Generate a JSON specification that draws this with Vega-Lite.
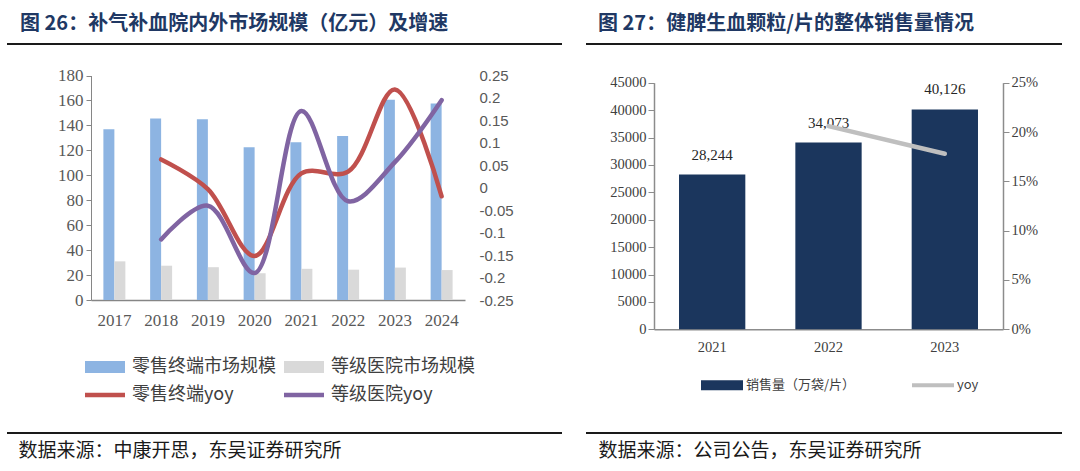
{
  "$schema": "https://vega.github.io/schema/vega-lite/v6.json",
  "background": "white",
  "padding": {"left": 6, "top": 13, "right": 0, "bottom": 0},
  "spacing": 22,
  "config": {"axis": {"grid": false}, "legend": {"padding": 0, "offset": 0}},
  "resolve": {"scale": {"color": "independent"}, "legend": {"color": "independent"}},
  "hconcat": [
    {
      "width": 555,
      "height": 389,
      "view": {"stroke": "#1a1a1a", "strokeWidth": 2, "strokeDash": [555, 389]},
      "title": {
        "text": "图 26：补气补血院内外市场规模（亿元）及增速",
        "anchor": "start", "frame": "group", "dx": 13, "offset": 10,
        "font": "Noto Sans CJK SC", "fontSize": 20, "fontWeight": "bold", "color": "#203864"
      },
      "layer": [
        {
          "data": {"values": [
            {"year": "2017", "series": "零售终端市场规模", "value": 137},
            {"year": "2017", "series": "等级医院市场规模", "value": 31},
            {"year": "2018", "series": "零售终端市场规模", "value": 145.5},
            {"year": "2018", "series": "等级医院市场规模", "value": 27.5},
            {"year": "2019", "series": "零售终端市场规模", "value": 145},
            {"year": "2019", "series": "等级医院市场规模", "value": 26.3},
            {"year": "2020", "series": "零售终端市场规模", "value": 122.5},
            {"year": "2020", "series": "等级医院市场规模", "value": 21.5},
            {"year": "2021", "series": "零售终端市场规模", "value": 126.5},
            {"year": "2021", "series": "等级医院市场规模", "value": 25},
            {"year": "2022", "series": "零售终端市场规模", "value": 131.5},
            {"year": "2022", "series": "等级医院市场规模", "value": 24.3},
            {"year": "2023", "series": "零售终端市场规模", "value": 160.5},
            {"year": "2023", "series": "等级医院市场规模", "value": 26},
            {"year": "2024", "series": "零售终端市场规模", "value": 157.5},
            {"year": "2024", "series": "等级医院市场规模", "value": 24}
          ]},
          "mark": {"type": "bar"},
          "encoding": {
            "x": {
              "field": "year", "type": "nominal",
              "scale": {"range": [84, 458], "paddingInner": 0.53, "paddingOuter": 0.265},
              "axis": {
                "orient": "bottom", "offset": -133, "labelAngle": 0,
                "domainColor": "#868686", "domainWidth": 1.5, "ticks": false,
                "labelFont": "Liberation Serif", "labelFontSize": 17, "labelColor": "#595959", "labelPadding": 12,
                "title": "数据来源：中康开思，东吴证券研究所",
                "titleX": 11, "titleY": 150, "titleAlign": "left", "titleAnchor": "start", "titleBaseline": "middle",
                "titleFont": "Noto Sans CJK SC", "titleFontSize": 19, "titleFontWeight": "normal", "titleColor": "#1a1a1a"
              }
            },
            "xOffset": {"field": "series", "type": "nominal", "sort": ["零售终端市场规模", "等级医院市场规模"]},
            "y": {
              "field": "value", "type": "quantitative",
              "scale": {"domain": [0, 180], "range": [256, 31.5], "nice": false},
              "axis": {
                "orient": "left", "offset": -84, "title": null,
                "values": [0, 20, 40, 60, 80, 100, 120, 140, 160, 180],
                "domainColor": "#868686", "tickColor": "#868686", "tickSize": 5,
                "labelFont": "Liberation Serif", "labelFontSize": 17, "labelColor": "#595959", "labelPadding": 3
              }
            },
            "color": {
              "field": "series", "type": "nominal",
              "scale": {
                "domain": ["零售终端市场规模", "零售终端yoy", "等级医院市场规模", "等级医院yoy"],
                "range": ["#8DB4E2", "#C0504D", "#D9D9D9", "#8064A2"]
              },
              "legend": {
                "title": null, "orient": "none", "legendX": 78, "legendY": 313,
                "columns": 2, "columnPadding": 8, "rowPadding": 9,
                "symbolType": "M-1,-0.6H3V0.6H-1Z", "symbolSize": 400, "symbolStrokeWidth": 0,
                "labelOffset": 27, "labelFont": "Noto Sans CJK SC", "labelFontSize": 18, "labelColor": "#404040",
                "encode": {
                  "symbols": {"update": {
                    "shape": {"signal": "test(/yoy/, datum.value) ? 'M-1,-0.22H3V0.22H-1Z' : 'M-1,-0.6H3V0.6H-1Z'"},
                    "fill": {"scale": "color", "field": "value"},
                    "stroke": {"value": "transparent"},
                    "opacity": {"value": 1}
                  }}
                }
              }
            }
          }
        },
        {
          "data": {"values": [
            {"year": "2018", "series": "零售终端yoy", "yoy": 0.063},
            {"year": "2019", "series": "零售终端yoy", "yoy": -0.003},
            {"year": "2020", "series": "零售终端yoy", "yoy": -0.152},
            {"year": "2021", "series": "零售终端yoy", "yoy": 0.032},
            {"year": "2022", "series": "零售终端yoy", "yoy": 0.036},
            {"year": "2023", "series": "零售终端yoy", "yoy": 0.219},
            {"year": "2024", "series": "零售终端yoy", "yoy": -0.019},
            {"year": "2018", "series": "等级医院yoy", "yoy": -0.115},
            {"year": "2019", "series": "等级医院yoy", "yoy": -0.04},
            {"year": "2020", "series": "等级医院yoy", "yoy": -0.19},
            {"year": "2021", "series": "等级医院yoy", "yoy": 0.171},
            {"year": "2022", "series": "等级医院yoy", "yoy": -0.03},
            {"year": "2023", "series": "等级医院yoy", "yoy": 0.057},
            {"year": "2024", "series": "等级医院yoy", "yoy": 0.195}
          ]},
          "mark": {"type": "line", "interpolate": "catmull-rom", "strokeWidth": 4.5, "strokeCap": "round"},
          "encoding": {
            "x": {"field": "year", "type": "nominal"},
            "y": {
              "field": "yoy", "type": "quantitative",
              "scale": {"domain": [-0.25, 0.25], "range": [256, 31.5], "nice": false, "zero": false},
              "axis": {
                "orient": "right", "offset": -97, "title": null,
                "values": [-0.25, -0.2, -0.15, -0.1, -0.05, 0, 0.05, 0.1, 0.15, 0.2, 0.25],
                "domain": false, "ticks": false, "labelPadding": 14,
                "labelFont": "Liberation Sans", "labelFontSize": 15, "labelColor": "#595959",
                "labelExpr": "replace(format(datum.value, '.2~f'), '−', '-')"
              }
            },
            "color": {"field": "series", "type": "nominal"}
          }
        }
      ],
      "resolve": {"scale": {"y": "independent"}}
    },
    {
      "width": 476,
      "height": 389,
      "view": {"stroke": "#1a1a1a", "strokeWidth": 2, "strokeDash": [476, 389]},
      "title": {
        "text": "图 27：健脾生血颗粒/片的整体销售量情况",
        "anchor": "start", "frame": "group", "dx": 12, "offset": 10,
        "font": "Noto Sans CJK SC", "fontSize": 20, "fontWeight": "bold", "color": "#203864"
      },
      "layer": [
        {
          "data": {"values": [
            {"year": "2021", "series": "销售量（万袋/片）", "value": 28244},
            {"year": "2022", "series": "销售量（万袋/片）", "value": 34073},
            {"year": "2023", "series": "销售量（万袋/片）", "value": 40126}
          ]},
          "layer": [
            {
              "mark": {"type": "bar"},
              "encoding": {
                "x": {
                  "field": "year", "type": "nominal",
                  "scale": {"range": [68, 417], "paddingInner": 0.43, "paddingOuter": 0.215},
                  "axis": {
                    "orient": "bottom", "offset": -103.7, "labelAngle": 0,
                    "domainColor": "#8c8c8c", "domainWidth": 1.5, "ticks": false,
                    "labelFont": "Liberation Serif", "labelFontSize": 14.5, "labelColor": "#404040", "labelPadding": 11,
                    "title": "数据来源：公司公告，东吴证券研究所",
                    "titleX": 12, "titleY": 120.7, "titleAlign": "left", "titleAnchor": "start", "titleBaseline": "middle",
                    "titleFont": "Noto Sans CJK SC", "titleFontSize": 19, "titleFontWeight": "normal", "titleColor": "#1a1a1a"
                  }
                },
                "y": {
                  "field": "value", "type": "quantitative",
                  "scale": {"domain": [0, 45000], "range": [285.3, 38.7], "nice": false},
                  "axis": {
                    "orient": "left", "offset": -68, "title": null,
                    "values": [0, 5000, 10000, 15000, 20000, 25000, 30000, 35000, 40000, 45000],
                    "format": "d",
                    "domainColor": "#8c8c8c", "tickColor": "#8c8c8c", "tickSize": 6, "domainWidth": 1.5,
                    "labelFont": "Liberation Serif", "labelFontSize": 14.5, "labelColor": "#404040", "labelPadding": 2
                  }
                },
                "color": {
                  "field": "series", "type": "nominal",
                  "scale": {"domain": ["销售量（万袋/片）", "yoy"], "range": ["#1B365D", "#BFBFBF"]},
                  "legend": {
                    "title": null, "orient": "none", "legendX": 115, "legendY": 330.5,
                    "columns": 2, "columnPadding": 56,
                    "symbolType": "M-1,-0.48H3V0.48H-1Z", "symbolSize": 441, "symbolStrokeWidth": 0,
                    "labelOffset": 24, "labelFont": "Noto Sans CJK SC", "labelFontSize": 13, "labelColor": "#404040",
                    "encode": {
                      "symbols": {"update": {
                        "shape": {"signal": "datum.value === 'yoy' ? 'M-1,-0.19H3V0.19H-1Z' : 'M-1,-0.48H3V0.48H-1Z'"},
                        "fill": {"scale": "color", "field": "value"},
                        "stroke": {"value": "transparent"},
                        "opacity": {"value": 1}
                      }}
                    }
                  }
                }
              }
            },
            {
              "mark": {"type": "text", "dy": -20, "baseline": "middle", "font": "Liberation Serif", "fontSize": 15, "color": "#262626"},
              "encoding": {
                "x": {"field": "year", "type": "nominal"},
                "y": {"field": "value", "type": "quantitative"},
                "text": {"field": "value", "type": "quantitative", "format": ","}
              }
            }
          ]
        },
        {
          "data": {"values": [
            {"year": "2022", "series": "yoy", "yoy": 0.206},
            {"year": "2023", "series": "yoy", "yoy": 0.178}
          ]},
          "mark": {"type": "line", "strokeWidth": 4.5, "strokeCap": "round"},
          "encoding": {
            "x": {"field": "year", "type": "nominal"},
            "y": {
              "field": "yoy", "type": "quantitative",
              "scale": {"domain": [0, 0.25], "range": [285.3, 38.7], "nice": false},
              "axis": {
                "orient": "right", "offset": -59, "title": null,
                "values": [0, 0.05, 0.1, 0.15, 0.2, 0.25], "format": ".0%",
                "domainColor": "#8c8c8c", "tickColor": "#8c8c8c", "tickSize": 6, "domainWidth": 1.5,
                "labelFont": "Liberation Serif", "labelFontSize": 14.5, "labelColor": "#404040", "labelPadding": 2
              }
            },
            "color": {"field": "series", "type": "nominal"}
          }
        }
      ],
      "resolve": {"scale": {"y": "independent"}}
    }
  ]
}
